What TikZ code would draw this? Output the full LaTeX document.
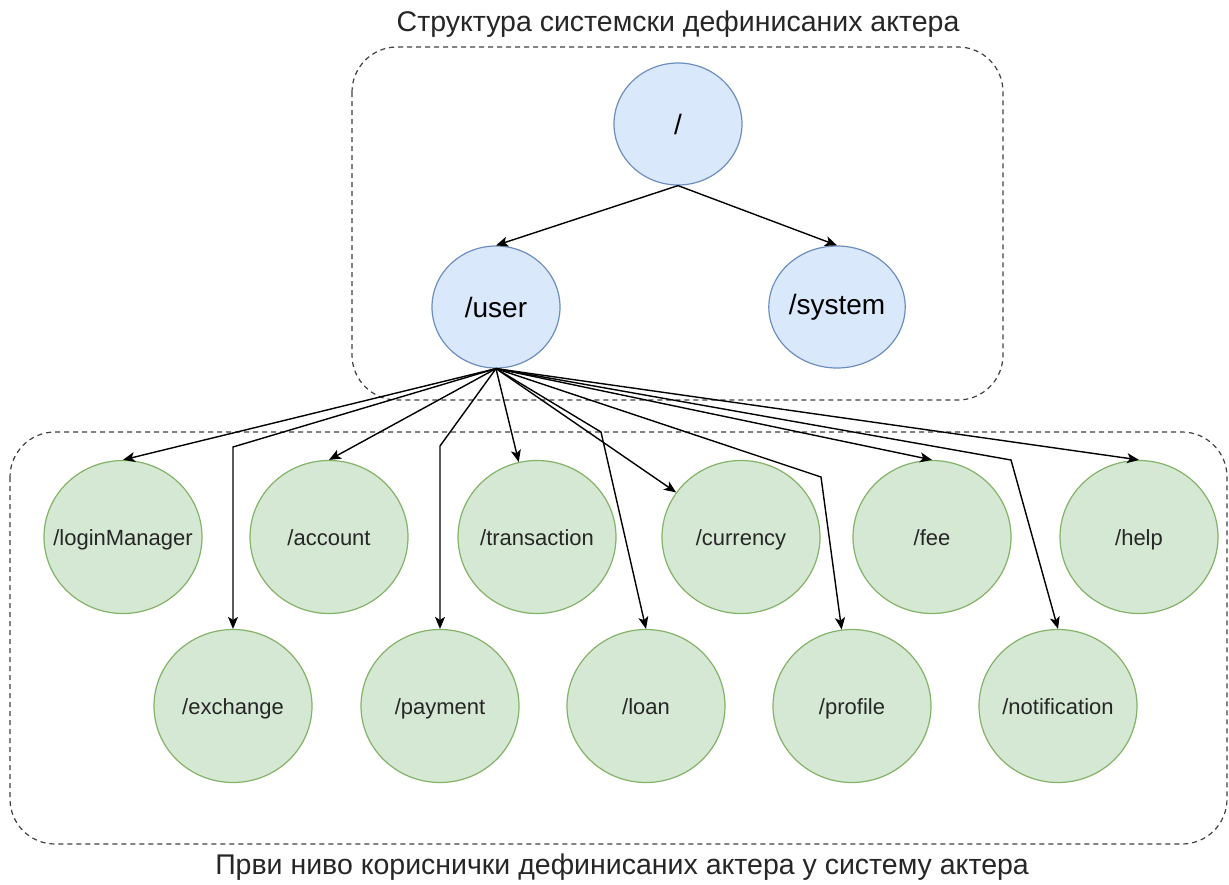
\documentclass[tikz,border=0pt]{standalone}
\usepackage{fontspec}
\setmainfont{Liberation Sans}
\usetikzlibrary{shapes.geometric,arrows.meta}
\definecolor{sysfill}{HTML}{DAE8FC}
\definecolor{sysdraw}{HTML}{6C8EBF}
\definecolor{usrfill}{HTML}{D5E8D4}
\definecolor{usrdraw}{HTML}{82B366}
\begin{document}
\begin{tikzpicture}[x=1pt, y=-1pt,
	sys/.style = {shape=ellipse, draw=sysdraw, fill=sysfill, line width=1.2pt,
		minimum width=128pt, minimum height=122pt, inner sep=0pt,
		font=\fontsize{28}{32}\selectfont},
	usr/.style = {shape=ellipse, draw=usrdraw, fill=usrfill, line width=1.2pt,
		minimum width=158pt, minimum height=153pt, inner sep=0pt,
		label={[font=\fontsize{22}{26}\selectfont, text=black!85,
			text height=1.6ex, text depth=0.2ex, yshift=-5pt]center:#1}},
	group/.style = {draw=black!75, line width=1.2pt, dash pattern=on 5pt off 4pt,
		rounded corners=45pt},
	caption/.style = {font=\fontsize{28.5}{33}\selectfont, text=black!85},
	edge/.style = {-{Stealth[length=12pt, width=10pt, inset=3pt]}, line width=1.4pt}]
	\useasboundingbox (0,0) rectangle (1229,884);
	\draw[group] (352,47) rectangle (1003,400);
	\draw[group] (10,432) rectangle (1227,844);
	\node[caption] (title) at (678,24) {Структура системски дефинисаних актера};
	\node[caption] (footer) at (622,867) {Први ниво кориснички дефинисаних актера у систему актера};
	\node[sys] (root) at (678,124) {/};
	\node[sys] (user) at (496,307) {/user};
	\node[sys] (system) at (837,307) {/system};
	\node[usr=/loginManager] (login) at (123,537) {};
	\node[usr=/account] (account) at (329,537) {};
	\node[usr=/transaction] (transaction) at (537,537) {};
	\node[usr=/currency] (currency) at (741,537) {};
	\node[usr=/fee] (fee) at (932,537) {};
	\node[usr=/help] (help) at (1139,537) {};
	\node[usr=/exchange] (exchange) at (233,706) {};
	\node[usr=/payment] (payment) at (440,706) {};
	\node[usr=/loan] (loan) at (646,706) {};
	\node[usr=/profile] (profile) at (852,706) {};
	\node[usr=/notification] (notification) at (1058,706) {};
	\draw[edge] (root.south) -- (user.north);
	\draw[edge] (root.south) -- (system.north);
	\draw[edge] (user.south) -- (login.north);
	\draw[edge] (user.south) -- (233,447) -- (exchange.north);
	\draw[edge] (user.south) -- (account.north);
	\draw[edge] (user.south) -- (440,446) -- (payment.north);
	\draw[edge] (user.south) -- (transaction);
	\draw[edge] (user.south) -- (601,432) -- (loan.north);
	\draw[edge] (user.south) -- (currency);
	\draw[edge] (user.south) -- (821,477) -- (profile);
	\draw[edge] (user.south) -- (fee.north);
	\draw[edge] (user.south) -- (1011,460) -- (notification.north);
	\draw[edge] (user.south) -- (help.north);
\end{tikzpicture}
\end{document}
